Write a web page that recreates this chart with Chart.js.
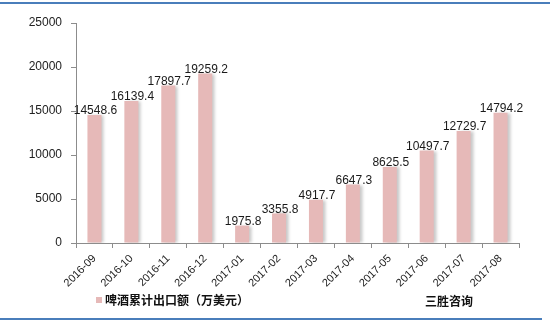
<!DOCTYPE html>
<html>
<head>
<meta charset="utf-8">
<script src="https://cdn.jsdelivr.net/npm/chart.js@4/dist/chart.umd.min.js"></script>
<style>
  html,body{margin:0;padding:0;background:#fff;}
  #wrap{position:relative;width:550px;height:324px;overflow:hidden;background:#fff;}
  #c{position:absolute;left:0;top:0;}
  .line{position:absolute;height:2px;background:#4A7EBB;}
  .txt{position:absolute;font-family:"Noto Sans CJK SC","Noto Sans",sans-serif;font-weight:bold;font-size:12px;color:#111;line-height:14px;white-space:nowrap;}
  .sw{position:absolute;width:6px;height:6px;background:#E6B9B8;}
</style>
</head>
<body>
<div id="wrap">
  <div class="line" style="left:0;top:2px;width:550px;"></div>
  <canvas id="c" width="550" height="324"></canvas>
  <div class="sw" style="left:96px;top:297px;"></div>
  <div class="txt" id="legendText" style="left:105px;top:293px;"></div>
  <div class="txt" id="brand" style="left:425px;top:294px;"></div>
  <div class="line" style="left:0;top:318px;width:542px;"></div>
</div>
<script>
const categories = ["2016-09","2016-10","2016-11","2016-12","2017-01","2017-02","2017-03","2017-04","2017-05","2017-06","2017-07","2017-08"];
const exportValues = [14548.6,16139.4,17897.7,19259.2,1975.8,3355.8,4917.7,6647.3,8625.5,10497.7,12729.7,14794.2];
const seriesName = "啤酒累计出口额（万美元）";
const brandName = "三胜咨询";
const yTicks = [0,5000,10000,15000,20000,25000];

document.getElementById('legendText').textContent = seriesName;
document.getElementById('brand').textContent = brandName;

const barPlugin = {
  id: 'barDecor',
  beforeDatasetsDraw(chart){
    const ctx = chart.ctx;
    ctx.save();
    ctx.shadowColor = 'rgba(0,0,0,0.22)';
    ctx.shadowOffsetX = 3;
    ctx.shadowOffsetY = 0;
    ctx.shadowBlur = 3;
  },
  afterDatasetsDraw(chart){
    const ctx = chart.ctx;
    ctx.restore();
    ctx.save();
    ctx.font = '12px "Liberation Sans", Arial, sans-serif';
    ctx.fillStyle = '#1a1a1a';
    ctx.textAlign = 'center';
    ctx.textBaseline = 'middle';
    const meta = chart.getDatasetMeta(0);
    meta.data.forEach((bar, i) => {
      ctx.fillText(String(exportValues[i]), bar.x + 1, bar.y - 4);
    });
    ctx.restore();
  }
};

new Chart(document.getElementById('c'), {
  type: 'bar',
  data: {
    labels: categories,
    datasets: [{
      label: seriesName,
      data: exportValues,
      backgroundColor: '#E6B9B8',
      borderWidth: 0,
      barPercentage: 0.38,
      categoryPercentage: 1.0
    }]
  },
  options: {
    responsive: false,
    animation: false,
    devicePixelRatio: 1,
    layout: { padding: { left: 0, right: 31, top: 23, bottom: 0 } },
    plugins: { legend: { display: false }, tooltip: { enabled: false } },
    scales: {
      x: {
        offset: true,
        grid: { offset: true, drawOnChartArea: false, drawTicks: true, tickLength: 5, color: '#8c8c8c' },
        border: { display: true, color: '#8c8c8c', width: 1 },
        ticks: {
          minRotation: 45, maxRotation: 45, autoSkip: false, padding: 4,
          color: '#222',
          font: { family: '"Liberation Sans", Arial, sans-serif', size: 11 }
        },
        afterFit(s){ s.height = 81; }
      },
      y: {
        min: 0, max: 25000,
        afterBuildTicks(s){ s.ticks = yTicks.map(v => ({ value: v })); },
        grid: { drawOnChartArea: false, drawTicks: true, tickLength: 5, color: '#8c8c8c' },
        border: { display: true, color: '#8c8c8c', width: 1 },
        ticks: {
          padding: 9, color: '#222',
          font: { family: '"Liberation Sans", Arial, sans-serif', size: 12 },
          callback: v => String(v)
        },
        afterFit(s){ s.width = 76; }
      }
    }
  },
  plugins: [barPlugin]
});
</script>
</body>
</html>
